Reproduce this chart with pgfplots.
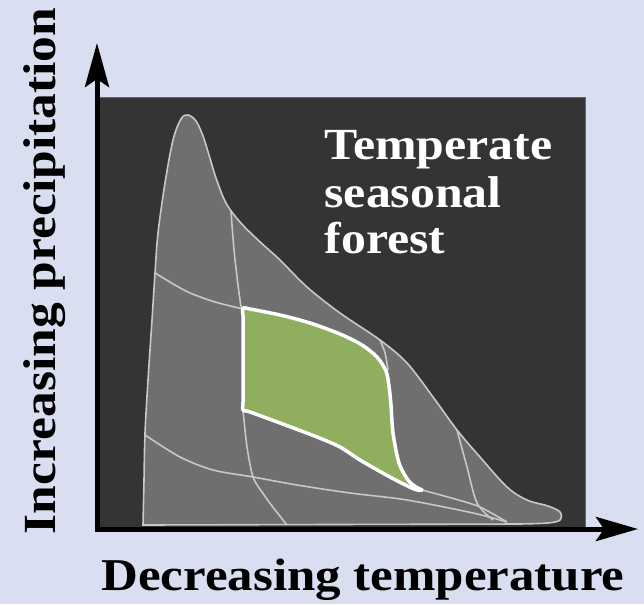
\documentclass[border=0pt]{standalone}
\usepackage{pgfplots}
\pgfplotsset{compat=1.18}
\usepackage{fontspec}
\setmainfont{Liberation Serif}[FakeStretch=1.12]
\usetikzlibrary{arrows.meta}

\definecolor{bgblue}{HTML}{D9DFF0}
\definecolor{darkbox}{HTML}{343434}
\definecolor{blobgray}{HTML}{6F6F6F}
\definecolor{thinline}{HTML}{C8C8C8}
\definecolor{forest}{HTML}{8FAE5E}

\begin{document}
\begin{tikzpicture}
\begin{axis}[
    hide axis,
    scale only axis,
    width=644pt, height=604pt,
    xmin=0, xmax=644,
    ymin=0, ymax=604,
    y dir=reverse,
    clip=false,
]
% background and dark panel
\addplot[fill=bgblue, draw=none] coordinates {(0,0)(644,0)(644,604)(0,604)} -- cycle;
\addplot[fill=darkbox, draw=gray!80!black, line width=1pt] coordinates {(97,98)(585,98)(585,528)(97,528)} -- cycle;

% climate envelope
\addplot[smooth, tension=0.55, fill=blobgray, draw=thinline, line width=1.6pt] coordinates {
    (143,525)(144,480)(145,433)(148,380)(152,320)(155,273)(158,233)(165,183)
    (173,140)(181,119)(188,115)(196,121)(203,136)(209,155)(216,178)(226,203)
    (240,222)(258,240)(280,260)(307,287)(340,313)(380,340)(407,363)(433,397)
    (457,430)(480,457)(507,487)(527,500)(548,506)(560,512)(560,520)(548,523)(520,524)
} -- cycle;

% inner boundaries
\addplot[smooth, thinline, line width=1.6pt] coordinates {(155,273)(175,285)(190,293)(215,302)(243,309)};
\addplot[smooth, thinline, line width=1.6pt] coordinates {(231,211)(234,250)(238,285)(241,307)};
\addplot[smooth, thinline, line width=1.6pt] coordinates {(243,410)(247,447)(253,477)(262,492)(272,506)(287,525)};
\addplot[smooth, thinline, line width=1.6pt] coordinates {(145,435)(180,457)(213,470)(253,477)(297,485)(350,493)(407,500)(473,513)(507,522)};
\addplot[smooth, thinline, line width=1.6pt] coordinates {(422,490)(455,499)(480,507)(507,522)};
\addplot[smooth, thinline, line width=1.6pt] coordinates {(457,430)(467,467)(477,503)(493,520)};
\addplot[smooth, thinline, line width=1.6pt] coordinates {(380,340)(385,353)(388,370)};

% temperate seasonal forest
\addplot[smooth, tension=0.5, fill=forest, draw=white, line width=3.5pt, line join=round] coordinates {
    (243,315)(243,308)(250,309)(280,315)(310,323)(340,334)(362,345)(377,357)
    (386,371)(389,386)(391,405)(393,433)(399,463)(408,480)(416,487)(422,490)
    (414,489)(390,477)(360,460)(340,447)(317,437)(280,423)(250,412)(243,410)
    (243,402)(243,360)
} -- cycle;

% axes arrows
\addplot[line width=5pt, -{Stealth[length=44pt,width=24pt,inset=8pt]}] coordinates {(97,531)(97,43)};
\addplot[line width=5pt, -{Stealth[length=42pt,width=24pt,inset=8pt]}] coordinates {(95,529)(638,529)};

% text
\node[anchor=base west, text=white, font=\fontsize{44.5}{47}\selectfont\bfseries] at (axis cs:321,160) {Temperate};
\node[anchor=base west, text=white, font=\fontsize{44.5}{47}\selectfont\bfseries] at (axis cs:321,207) {seasonal};
\node[anchor=base west, text=white, font=\fontsize{44.5}{47}\selectfont\bfseries] at (axis cs:321,253) {forest};
\node[anchor=base, font=\fontsize{45.5}{48}\selectfont\bfseries] at (axis cs:363,590) {Decreasing temperature};
\node[anchor=base, rotate=90, font=\fontsize{46}{48}\selectfont\bfseries] at (axis cs:55,271) {Increasing precipitation};
\end{axis}
\end{tikzpicture}
\end{document}
